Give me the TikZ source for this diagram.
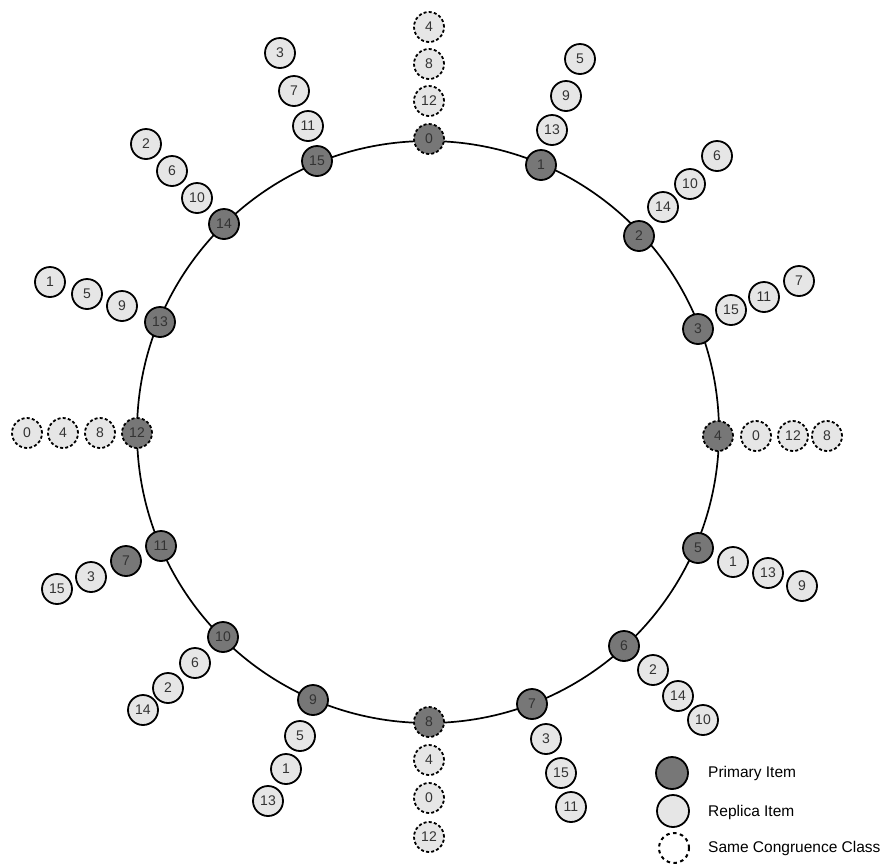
\documentclass[tikz,border=0pt]{standalone}
\usepackage{fontspec}
\setmainfont{Liberation Sans}
\definecolor{primfill}{HTML}{777777}
\definecolor{repfill}{HTML}{E6E6E6}
\definecolor{numtext}{HTML}{333333}
\begin{document}
\begin{tikzpicture}[x=1pt,y=-1pt,
  item/.style={circle,minimum size=30pt,inner sep=0pt,line width=1.8pt,draw=black,text=numtext,font=\fontsize{14}{16}\selectfont},
  primary/.style={item,fill=primfill},
  replica/.style={item,fill=repfill},
  congr/.style={dash pattern=on 3pt off 2.2pt},
  ring/.style={line width=1.7pt}]
\useasboundingbox (0,0) rectangle (893,863);
\coordinate (ctr) at (428,432);
\draw[ring] (ctr) circle[radius=291];
% primaries
\node[primary,congr] (p0) at (429,139) {0};
\node[primary] (p1) at (541,165) {1};
\node[primary] (p2) at (639,236) {2};
\node[primary] (p3) at (698,329) {3};
\node[primary,congr] (p4) at (718,436) {4};
\node[primary] (p5) at (698,548) {5};
\node[primary] (p6) at (624,646) {6};
\node[primary] (p7) at (532,704) {7};
\node[primary,congr] (p8) at (429,722) {8};
\node[primary] (p9) at (313,700) {9};
\node[primary] (p10) at (223,637) {10};
\node[primary] (p11) at (161,546) {11};
\node[primary,congr] (p12) at (137,433) {12};
\node[primary] (p13) at (160,322) {13};
\node[primary] (p14) at (224,224) {14};
\node[primary] (p15) at (317,161) {15};
% replicas
\node[replica,congr] (r0a) at (429,101) {12};
\node[replica,congr] (r0b) at (429,64) {8};
\node[replica,congr] (r0c) at (429,27) {4};
\node[replica] (r1a) at (552,130) {13};
\node[replica] (r1b) at (566,96) {9};
\node[replica] (r1c) at (580,59) {5};
\node[replica] (r2a) at (663,207) {14};
\node[replica] (r2b) at (690,184) {10};
\node[replica] (r2c) at (717,156) {6};
\node[replica] (r3a) at (731,310) {15};
\node[replica] (r3b) at (764,297) {11};
\node[replica] (r3c) at (799,281) {7};
\node[replica,congr] (r4a) at (756,436) {0};
\node[replica,congr] (r4b) at (793,436) {12};
\node[replica,congr] (r4c) at (827,436) {8};
\node[replica] (r5a) at (733,562) {1};
\node[replica] (r5b) at (768,573) {13};
\node[replica] (r5c) at (802,586) {9};
\node[replica] (r6a) at (653,670) {2};
\node[replica] (r6b) at (678,696) {14};
\node[replica] (r6c) at (703,720) {10};
\node[replica] (r7a) at (546,739) {3};
\node[replica] (r7b) at (561,773) {15};
\node[replica] (r7c) at (571,807) {11};
\node[replica,congr] (r8a) at (429,760) {4};
\node[replica,congr] (r8b) at (429,798) {0};
\node[replica,congr] (r8c) at (429,837) {12};
\node[replica] (r9a) at (300,736) {5};
\node[replica] (r9b) at (286,769) {1};
\node[replica] (r9c) at (268,801) {13};
\node[replica] (r10a) at (195,663) {6};
\node[replica] (r10b) at (168,688) {2};
\node[replica] (r10c) at (143,710) {14};
\node[primary] (r11a) at (126,561) {7};
\node[replica] (r11b) at (91,577) {3};
\node[replica] (r11c) at (57,589) {15};
\node[replica,congr] (r12a) at (100,433) {8};
\node[replica,congr] (r12b) at (63,433) {4};
\node[replica,congr] (r12c) at (27,433) {0};
\node[replica] (r13a) at (122,306) {9};
\node[replica] (r13b) at (87,294) {5};
\node[replica] (r13c) at (50,282) {1};
\node[replica] (r14a) at (197,198) {10};
\node[replica] (r14b) at (172,171) {6};
\node[replica] (r14c) at (146,144) {2};
\node[replica] (r15a) at (308,126) {11};
\node[replica] (r15b) at (294,91) {7};
\node[replica] (r15c) at (280,53) {3};
% legend
\node[item,fill=primfill,minimum size=32pt] (lg1) at (672,773) {};
\node[item,fill=repfill,minimum size=32pt] (lg2) at (673,811) {};
\node[item,dash pattern=on 3.5pt off 3.5pt,line width=2pt,minimum size=30pt] (lg3) at (674,848) {};
\begin{scope}[every node/.style={anchor=west,font=\fontsize{15.5}{18}\selectfont,inner sep=0pt}]
\node (lt1) at (708,773) {Primary Item};
\node (lt2) at (708,812) {Replica Item};
\node (lt3) at (708,848) {Same Congruence Class};
\end{scope}
\end{tikzpicture}
\end{document}
